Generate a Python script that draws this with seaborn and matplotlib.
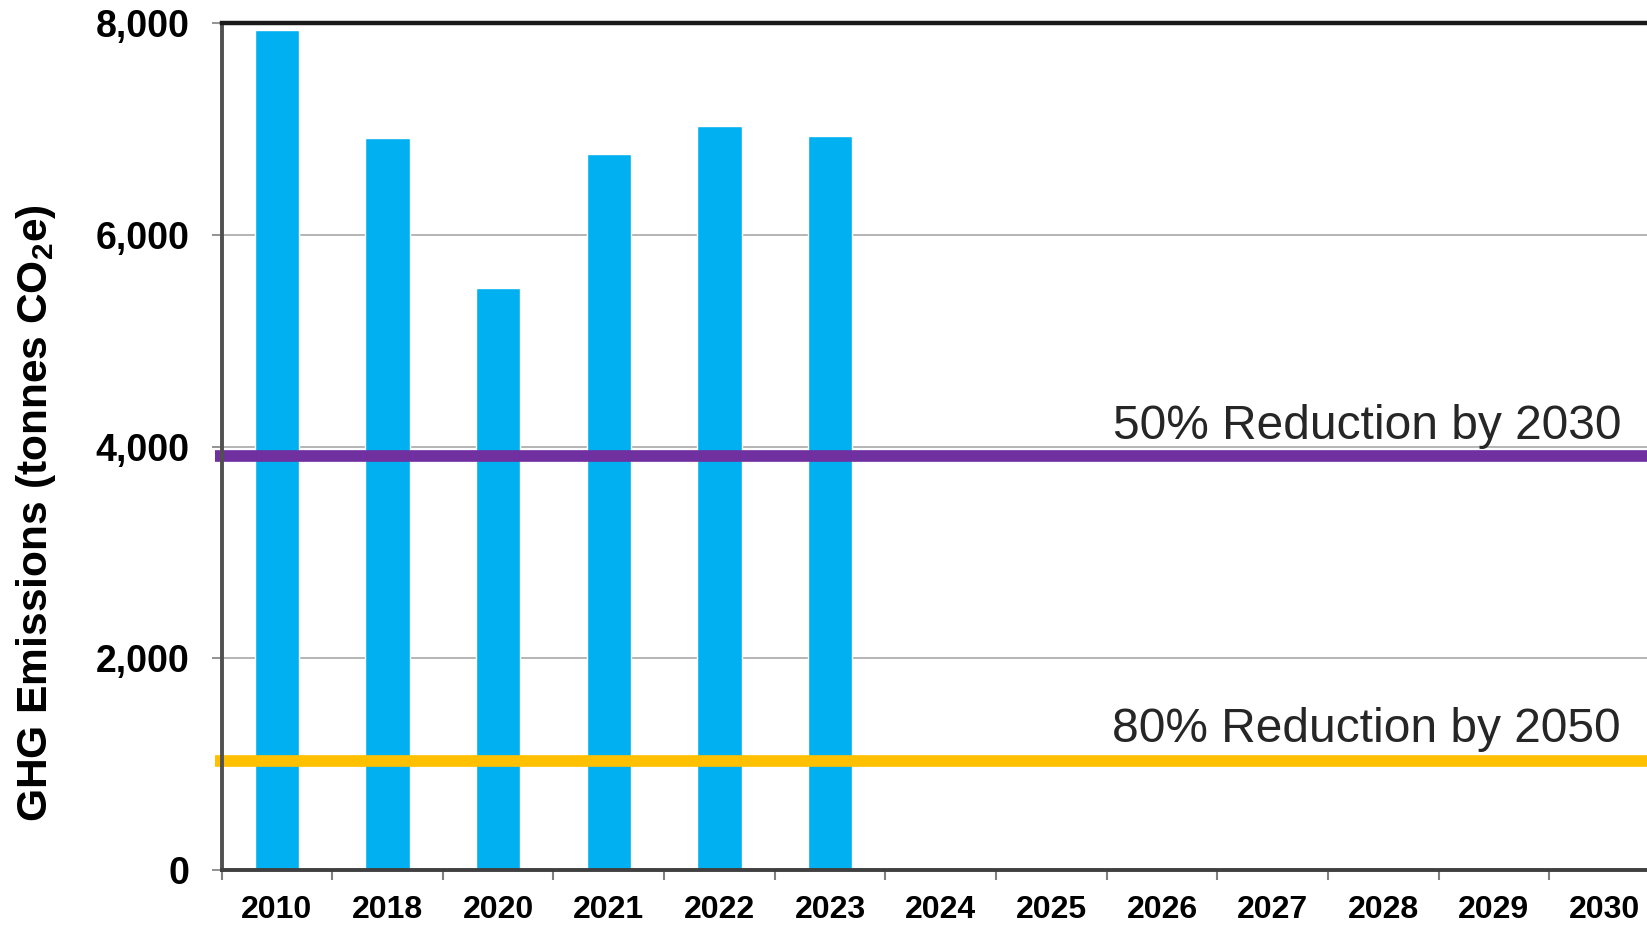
import numpy as np
import pandas as pd
import matplotlib
matplotlib.use("Agg")
import matplotlib.pyplot as plt
import seaborn as sns

# --------------------------------
# Data
# --------------------------------
years = ["2010", "2018", "2020", "2021", "2022", "2023", "2024",
         "2025", "2026", "2027", "2028", "2029", "2030"]
measured_years = ["2010", "2018", "2020", "2021", "2022", "2023"]
emissions = [7940, 6920, 5500, 6760, 7030, 6930]   # tonnes CO2e

target_labels = ["50% Reduction by 2030", "80% Reduction by 2050"]
target_values = [3910, 1030]
target_colors = ["#7030A0", "#FFC000"]
label_offsets = [160, 180]

yticks = [0, 2000, 4000, 6000, 8000]

df = pd.DataFrame({"year": measured_years, "ghg": emissions})

# --------------------------------
# Style
# --------------------------------
sns.set_style("white")
plt.rcParams["font.family"] = ["Liberation Sans", "DejaVu Sans"]
plt.rcParams["mathtext.fontset"] = "custom"
plt.rcParams["mathtext.bf"] = "Liberation Sans:bold"
plt.rcParams["mathtext.rm"] = "Liberation Sans:bold"

fig = plt.figure(figsize=(16.47, 9.25), dpi=100)
ax = fig.add_axes([0.1345, 0.0595, 0.8733, 0.9154])

sns.barplot(data=df, x="year", y="ghg", order=years, color="#00B0F0",
            saturation=1, width=0.4, ax=ax, zorder=2)

ax.set_xlim(-0.5, len(years) - 0.5)
ax.set_ylim(0, 8000)

# grid
ax.set_axisbelow(True)
ax.yaxis.grid(True, color="#A0A0A0", linewidth=1.1)
ax.xaxis.grid(False)

# target lines + labels
for lab, val, col, off in zip(target_labels, target_values, target_colors, label_offsets):
    ax.axhline(val, xmin=-0.0046, xmax=1, color=col, linewidth=8.4,
               solid_capstyle="butt", clip_on=False, zorder=3)
    ax.text(12.15, val + off, lab, ha="right", va="baseline",
            fontsize=34.5, color="#262626", zorder=4)

# spines
ax.spines["top"].set_color("#1a1a1a")
ax.spines["top"].set_linewidth(3.2)
ax.spines["left"].set_color("#505050")
ax.spines["left"].set_linewidth(2.8)
ax.spines["bottom"].set_color("#404040")
ax.spines["bottom"].set_linewidth(2.8)
ax.spines["right"].set_visible(False)
for s in ax.spines.values():
    s.set_zorder(5)

# y ticks
ax.set_yticks(yticks)
ax.set_yticklabels([f"{v:,}" for v in yticks], fontsize=27, fontweight="bold",
                   color="black")
ax.tick_params(axis="y", which="major", left=True, length=7, width=1.2,
               color="#808080", pad=16)

# x ticks: labels at centres, marks at category boundaries
ax.set_xticks(range(len(years)))
ax.set_xticklabels(years, fontsize=23, fontweight="bold", color="black")
ax.set_xticks(np.arange(-0.5, len(years), 1.0), minor=True)
ax.tick_params(axis="x", which="major", bottom=True, length=0, pad=18)
ax.tick_params(axis="x", which="minor", bottom=True, length=7, width=1.5,
               color="#808080")

ax.set_xlabel("")
ax.set_ylabel(r"GHG Emissions (tonnes CO$_{\mathbf{2}}$e)", fontsize=30.6,
              fontweight="bold", color="black")
ax.yaxis.set_label_coords(-0.114, 0.421)

fig.savefig("out.png", dpi=100)
